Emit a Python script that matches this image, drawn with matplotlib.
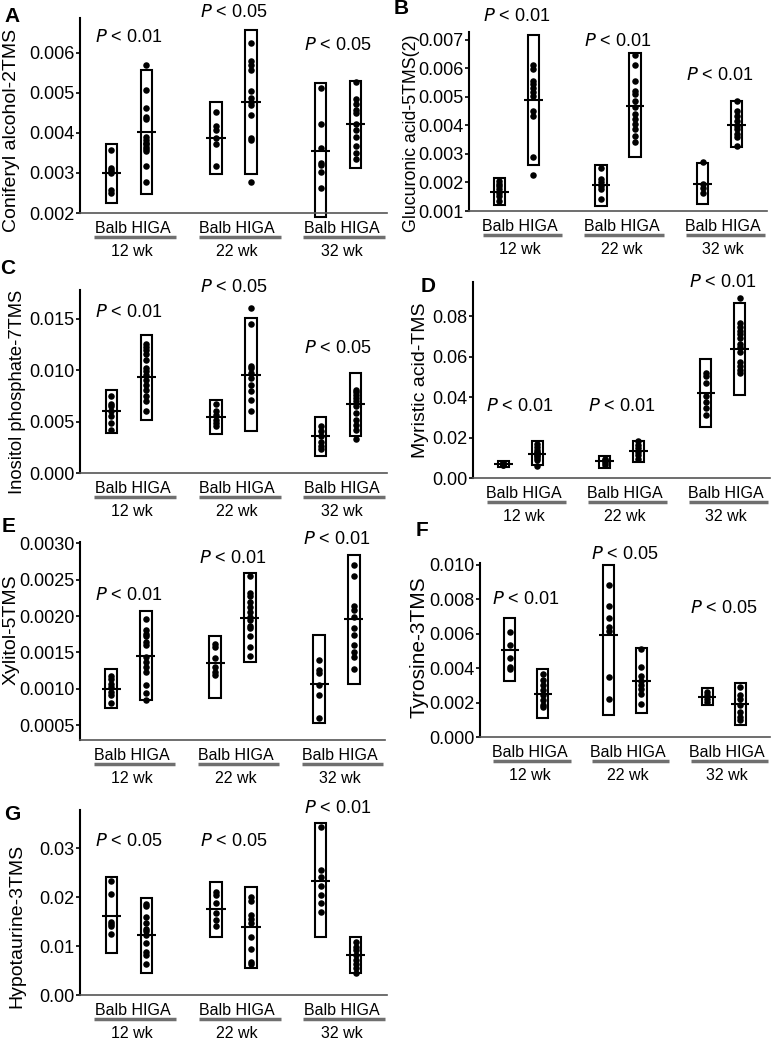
"""
Seven dot/box panels: metabolite levels in Balb vs HIGA mice at 12, 22 and 32 weeks.
"""
import numpy as np
import matplotlib.pyplot as plt
from matplotlib.patches import Rectangle
from matplotlib.transforms import ScaledTranslation

plt.rcParams['font.family'] = ['Liberation Sans', 'DejaVu Sans']

W, H = 777, 1042

weeks = ['12 wk', '22 wk', '32 wk']
strains = ['Balb', 'HIGA']

# ---- data, one list per group in order Balb12, HIGA12, Balb22, HIGA22, Balb32, HIGA32
names = ['Coniferyl alcohol-2TMS', 'Glucuronic acid-5TMS(2)', 'Inositol phosphate-7TMS',
         'Myristic acid-TMS', 'Xylitol-5TMS', 'Tyrosine-3TMS', 'Hypotaurine-3TMS']
letters = ['A', 'B', 'C', 'D', 'E', 'F', 'G']

pvals = [['< 0.01', '< 0.05', '< 0.05'],
         ['< 0.01', '< 0.01', '< 0.01'],
         ['< 0.01', '< 0.05', '< 0.05'],
         ['< 0.01', '< 0.01', '< 0.01'],
         ['< 0.01', '< 0.01', '< 0.01'],
         ['< 0.01', '< 0.05', '< 0.05'],
         ['< 0.05', '< 0.05', '< 0.01']]

coniferyl_points = [
    [0.00357, 0.00311, 0.00307, 0.00303, 0.00300, 0.00258, 0.00250],
    [0.00569, 0.00507, 0.00462, 0.00439, 0.00435, 0.00390, 0.00382, 0.00375, 0.00371,
     0.00365, 0.00360, 0.00354, 0.00316, 0.00278],
    [0.00452, 0.00416, 0.00406, 0.00386, 0.00373, 0.00318],
    [0.00623, 0.00580, 0.00569, 0.00557, 0.00505, 0.00486, 0.00476, 0.00468, 0.00443,
     0.00386, 0.00382, 0.00278],
    [0.00512, 0.00423, 0.00363, 0.00324, 0.00320, 0.00301, 0.00262],
    [0.00526, 0.00483, 0.00472, 0.00456, 0.00448, 0.00423, 0.00406, 0.00390, 0.00367,
     0.00349, 0.00334]]
coniferyl_mean = [0.00299, 0.00402, 0.00387, 0.00476, 0.00354, 0.00421]
coniferyl_low = [0.00225, 0.00248, 0.00297, 0.00297, 0.00190, 0.00313]
coniferyl_high = [0.00371, 0.00556, 0.00476, 0.00656, 0.00523, 0.00529]

glucuronic_points = [
    [0.00205, 0.00196, 0.00188, 0.00176, 0.00164, 0.00153, 0.00135],
    [0.00610, 0.00598, 0.00557, 0.00545, 0.00531, 0.00516, 0.00504, 0.00452, 0.00434,
     0.00288, 0.00227],
    [0.00252, 0.00211, 0.00200, 0.00188, 0.00176, 0.00141],
    [0.00645, 0.00610, 0.00557, 0.00522, 0.00510, 0.00487, 0.00463, 0.00440, 0.00422,
     0.00405, 0.00387, 0.00364, 0.00340],
    [0.00270, 0.00194, 0.00182, 0.00164],
    [0.00487, 0.00452, 0.00434, 0.00416, 0.00399, 0.00387, 0.00370, 0.00358, 0.00329]]
glucuronic_mean = [0.00168, 0.00489, 0.00191, 0.00469, 0.00196, 0.00402]
glucuronic_low = [0.00121, 0.00262, 0.00118, 0.00290, 0.00123, 0.00323]
glucuronic_high = [0.00215, 0.00715, 0.00260, 0.00653, 0.00268, 0.00487]

inositol_points = [
    [0.00747, 0.00675, 0.00650, 0.00600, 0.00550, 0.00487, 0.00422],
    [0.01250, 0.01227, 0.01200, 0.01153, 0.01100, 0.01023, 0.00990, 0.00958, 0.00909,
     0.00860, 0.00810, 0.00747, 0.00698, 0.00600],
    [0.00675, 0.00600, 0.00568, 0.00520, 0.00487, 0.00461],
    [0.01607, 0.01445, 0.01045, 0.01023, 0.00974, 0.00925, 0.00860, 0.00796, 0.00714,
     0.00600],
    [0.00455, 0.00406, 0.00357, 0.00299, 0.00260, 0.00234],
    [0.00812, 0.00786, 0.00763, 0.00730, 0.00698, 0.00650, 0.00584, 0.00520, 0.00471,
     0.00422, 0.00331]]
inositol_mean = [0.00600, 0.00932, 0.00545, 0.00958, 0.00357, 0.00672]
inositol_low = [0.00390, 0.00513, 0.00380, 0.00406, 0.00162, 0.00364]
inositol_high = [0.00805, 0.01341, 0.00714, 0.01510, 0.00545, 0.00974]

myristic_points = [
    [0.0075, 0.0072, 0.0070, 0.0069, 0.0067, 0.0066, 0.0064],
    [0.0168, 0.0153, 0.0140, 0.0131, 0.0123, 0.0115, 0.0107, 0.0099, 0.0090, 0.0061],
    [0.0095, 0.0090, 0.0082, 0.0074, 0.0066],
    [0.0181, 0.0164, 0.0148, 0.0131, 0.0115, 0.0095],
    [0.0521, 0.0504, 0.0472, 0.0403, 0.0378, 0.0345, 0.0312],
    [0.0892, 0.0767, 0.0748, 0.0728, 0.0711, 0.0690, 0.0662, 0.0646, 0.0624, 0.0575,
     0.0554, 0.0534, 0.0521]]
myristic_mean = [0.0069, 0.0118, 0.0085, 0.0135, 0.0419, 0.0637]
myristic_low = [0.0055, 0.0066, 0.0049, 0.0079, 0.0250, 0.0411]
myristic_high = [0.0085, 0.0181, 0.0107, 0.0184, 0.0587, 0.0866]

xylitol_points = [
    [0.00118, 0.00113, 0.00107, 0.00103, 0.00096, 0.00091, 0.00080],
    [0.00196, 0.00181, 0.00176, 0.00172, 0.00165, 0.00160, 0.00144, 0.00137, 0.00130,
     0.00123, 0.00105, 0.00094, 0.00084],
    [0.00161, 0.00158, 0.00142, 0.00130, 0.00123, 0.00119],
    [0.00255, 0.00232, 0.00228, 0.00220, 0.00213, 0.00206, 0.00199, 0.00194, 0.00186,
     0.00183, 0.00172, 0.00158, 0.00145],
    [0.00139, 0.00126, 0.00121, 0.00105, 0.00091, 0.00060],
    [0.00271, 0.00255, 0.00214, 0.00209, 0.00199, 0.00184, 0.00174, 0.00160, 0.00150,
     0.00143, 0.00127]]
xylitol_mean = [0.000995, 0.00145, 0.00136, 0.00198, 0.00107, 0.00196]
xylitol_low = [0.00073, 0.00084, 0.00087, 0.00137, 0.00053, 0.00107]
xylitol_high = [0.00127, 0.00207, 0.00173, 0.00259, 0.00174, 0.00284]

tyrosine_points = [
    [0.00612, 0.00534, 0.00456, 0.00408, 0.00392],
    [0.00365, 0.00330, 0.00301, 0.00272, 0.00243, 0.00214, 0.00188, 0.00175],
    [0.00884, 0.00761, 0.00693, 0.00637, 0.00618, 0.00346, 0.00219],
    [0.00509, 0.00408, 0.00353, 0.00324, 0.00301, 0.00276, 0.00252, 0.00194],
    [0.00262, 0.00243, 0.00223, 0.00204],
    [0.00291, 0.00243, 0.00218, 0.00184, 0.00146, 0.00117, 0.00101]]
tyrosine_mean = [0.00505, 0.00252, 0.00592, 0.00324, 0.00233, 0.00192]
tyrosine_low = [0.00324, 0.00111, 0.00126, 0.00142, 0.00184, 0.00072]
tyrosine_high = [0.00690, 0.00394, 0.01000, 0.00515, 0.00285, 0.00311]

hypotaurine_points = [
    [0.0232, 0.0206, 0.0150, 0.0145, 0.0140, 0.0124],
    [0.0186, 0.0181, 0.0160, 0.0147, 0.0135, 0.0130, 0.0123, 0.0106, 0.0087, 0.0082,
     0.0063],
    [0.0211, 0.0205, 0.0188, 0.0167, 0.0153, 0.0140],
    [0.0200, 0.0192, 0.0164, 0.0155, 0.0147, 0.0119, 0.0093, 0.0068, 0.0063],
    [0.0344, 0.0256, 0.0242, 0.0223, 0.0205, 0.0188, 0.0170],
    [0.0109, 0.0099, 0.0092, 0.0082, 0.0072, 0.0063, 0.0055, 0.0044]]
hypotaurine_mean = [0.01623, 0.01227, 0.0175, 0.01384, 0.0233, 0.00818]
hypotaurine_low = [0.00852, 0.00457, 0.0118, 0.0056, 0.0119, 0.00457]
hypotaurine_high = [0.0241, 0.01977, 0.0231, 0.0220, 0.0351, 0.0118]

yticks = [[0.002, 0.003, 0.004, 0.005, 0.006],
          [0.001, 0.002, 0.003, 0.004, 0.005, 0.006, 0.007],
          [0.000, 0.005, 0.010, 0.015],
          [0.00, 0.02, 0.04, 0.06, 0.08],
          [0.0005, 0.0010, 0.0015, 0.0020, 0.0025, 0.0030],
          [0.000, 0.002, 0.004, 0.006, 0.008, 0.010],
          [0.00, 0.01, 0.02, 0.03]]
tick_fmt = ['%.3f', '%.3f', '%.3f', '%.2f', '%.4f', '%.3f', '%.2f']

points = [coniferyl_points, glucuronic_points, inositol_points, myristic_points,
          xylitol_points, tyrosine_points, hypotaurine_points]
means = [coniferyl_mean, glucuronic_mean, inositol_mean, myristic_mean,
         xylitol_mean, tyrosine_mean, hypotaurine_mean]
lows = [coniferyl_low, glucuronic_low, inositol_low, myristic_low,
        xylitol_low, tyrosine_low, hypotaurine_low]
highs = [coniferyl_high, glucuronic_high, inositol_high, myristic_high,
         xylitol_high, tyrosine_high, hypotaurine_high]

# ---- layout (pixels): axes left, right, top, bottom
boxes_px = [(80, 387, 18, 213), (469, 767, 32, 211), (80, 387, 290, 473),
            (473, 770, 282, 478), (80, 385, 542, 740), (480, 770, 563, 737),
            (80, 387, 810, 995)]
ylims = [(0.002, 0.00686), (0.001, 0.00727), (0.0, 0.0178), (0.0, 0.0969),
         (0.000294, 0.00302), (0.0, 0.0101), (0.0, 0.0378)]
letter_px = [(12, 16), (401, 9), (8, 269), (428, 287), (9, 526), (422, 530), (12, 814)]
ylabel_px = [(12, 130), (411, 133), (18, 392), (421, 380), (11, 630), (419, 647), (17, 926)]
ylabel_size = [14, 12.8, 13.2, 14, 14, 15, 14]
ptext_y = [[0.00637, 0.00699, 0.00617],
           [0.0078, 0.00692, 0.00575],
           [0.01559, 0.01802, 0.01208],
           [0.0353, 0.0353, 0.0969],
           [0.00229, 0.00279, 0.00305],
           [0.00796, 0.01058, 0.00748],
           [0.0314, 0.0314, 0.0382]]

xpos = [1, 2, 4, 5, 7, 8]
centers = [1.5, 4.5, 7.5]
box_w = 0.33
mean_w = 0.55


def px2fig(x, y):
    return x / W, 1 - y / H


fig = plt.figure(figsize=(W / 100, H / 100), dpi=100)

for i in range(7):
    l, r, t, b = boxes_px[i]
    ax = fig.add_axes([l / W, 1 - b / H, (r - l) / W, (b - t) / H])
    ax.set_xlim(0.1, 8.9)
    ax.set_ylim(*ylims[i])

    for j, x in enumerate(xpos):
        lo, hi = lows[i][j], highs[i][j]
        ax.add_patch(Rectangle((x - box_w / 2, lo), box_w, hi - lo, facecolor='white',
                               edgecolor='black', linewidth=1.5, zorder=2, clip_on=False))
        ax.scatter(np.full(len(points[i][j]), x), points[i][j], s=22, color='black',
                   zorder=3, clip_on=False, linewidths=0)
        ax.plot([x - mean_w / 2, x + mean_w / 2], [means[i][j]] * 2, color='black',
                lw=1.5, zorder=4, solid_capstyle='butt')

    trans = ax.get_xaxis_transform()
    under = trans + ScaledTranslation(0, -17.5 / 72, fig.dpi_scale_trans)
    for k, c in enumerate(centers):
        ax.text(c, ptext_y[i][k], r'$\it{P}$ ' + pvals[i][k], ha='center', va='center',
                fontsize=13)
        ax.annotate(' '.join(strains), xy=(c + 0.1, 0), xycoords=trans, xytext=(0, -11),
                    textcoords='offset points', ha='center', va='center', fontsize=11.5)
        ax.plot([c - 1.0, c + 1.35], [0, 0], transform=under, color='#6f6f6f', lw=2.5,
                clip_on=False, solid_capstyle='butt')
        ax.annotate(weeks[k], xy=(c + 0.1, 0), xycoords=trans, xytext=(0, -28),
                    textcoords='offset points', ha='center', va='center', fontsize=11.5)

    ax.set_yticks(yticks[i])
    ax.set_yticklabels([tick_fmt[i] % v for v in yticks[i]], fontsize=13)
    ax.set_xticks([])
    ax.spines['top'].set_visible(False)
    ax.spines['right'].set_visible(False)
    ax.spines['left'].set_linewidth(1.5)
    ax.spines['bottom'].set_color('#555555')
    ax.spines['bottom'].set_linewidth(1.2)
    ax.tick_params(axis='y', length=3, width=1.2, pad=1)
    ax.patch.set_alpha(0)

    fx, fy = px2fig(*letter_px[i])
    fig.text(fx, fy, letters[i], fontsize=15, fontweight='bold', ha='center', va='center')
    fx, fy = px2fig(*ylabel_px[i])
    fig.text(fx, fy, names[i], fontsize=ylabel_size[i], rotation=90, ha='center',
             va='center')

fig.savefig('out.png', dpi=100)
